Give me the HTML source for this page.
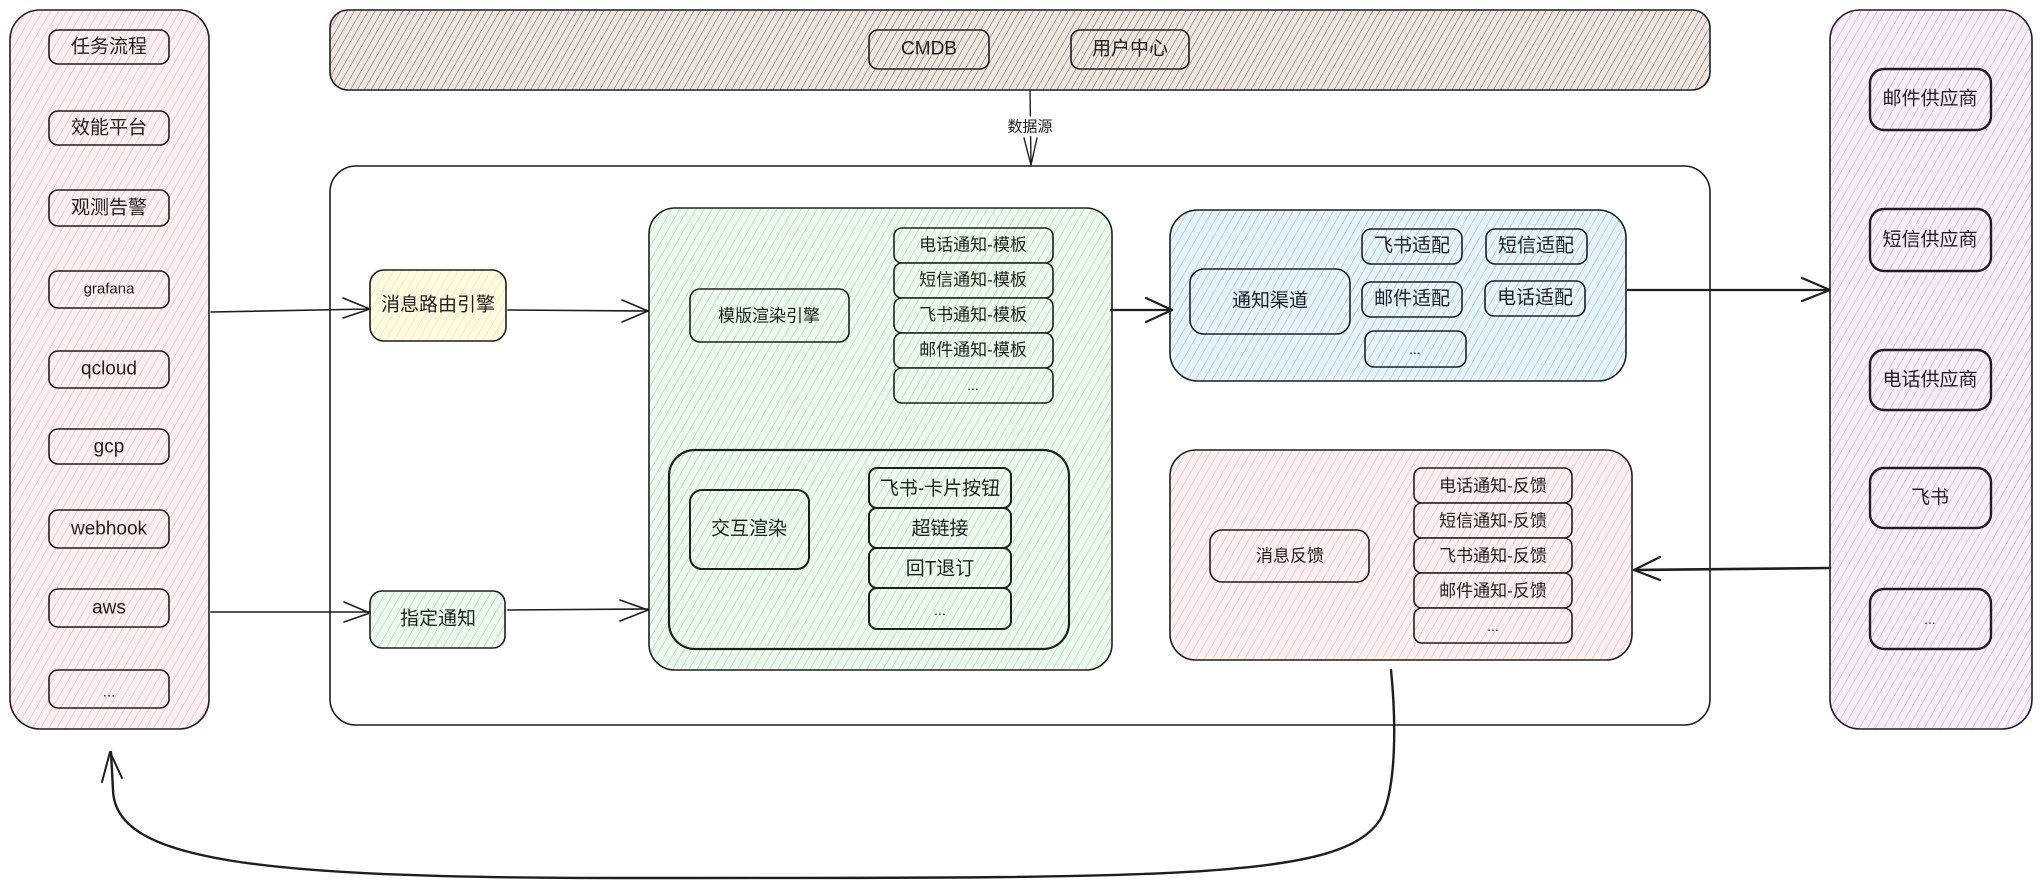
<!DOCTYPE html>
<html><head><meta charset="utf-8">
<style>
html,body{margin:0;padding:0;background:#fff;}
svg{display:block;}
text{font-family:"Liberation Sans","Noto Sans CJK SC",sans-serif;fill:#1e1e1e;text-anchor:middle;dominant-baseline:central;}
</style></head><body>
<svg width="2040" height="889" viewBox="0 0 2040 889" xmlns="http://www.w3.org/2000/svg">
<defs>
<pattern id="pk" width="7" height="7" patternUnits="userSpaceOnUse" patternTransform="rotate(30)"><rect width="7" height="7" fill="#fff1f1"/><line x1="0" y1="0" x2="0" y2="7" stroke="#ffb3b3" stroke-width="1.3"/></pattern>
<pattern id="br" width="6" height="6" patternUnits="userSpaceOnUse" patternTransform="rotate(30)"><rect width="6" height="6" fill="#eee6e2"/><line x1="0" y1="0" x2="0" y2="6" stroke="#8a6f63" stroke-width="1.2"/></pattern>
<pattern id="gr" width="7" height="7" patternUnits="userSpaceOnUse" patternTransform="rotate(30)"><rect width="7" height="7" fill="#eefcf0"/><line x1="0" y1="0" x2="0" y2="7" stroke="#9ee6a8" stroke-width="1.3"/></pattern>
<pattern id="bl" width="7" height="7" patternUnits="userSpaceOnUse" patternTransform="rotate(30)"><rect width="7" height="7" fill="#e8f4ff"/><line x1="0" y1="0" x2="0" y2="7" stroke="#92ccf8" stroke-width="1.3"/></pattern>
<pattern id="pu" width="7" height="7" patternUnits="userSpaceOnUse" patternTransform="rotate(30)"><rect width="7" height="7" fill="#fbefff"/><line x1="0" y1="0" x2="0" y2="7" stroke="#e2a8f5" stroke-width="1.3"/></pattern>
<pattern id="ye" width="7" height="7" patternUnits="userSpaceOnUse" patternTransform="rotate(30)"><rect width="7" height="7" fill="#fffbe6"/><line x1="0" y1="0" x2="0" y2="7" stroke="#ffe480" stroke-width="1.3"/></pattern>
</defs>
<g stroke="#1e1e1e" stroke-width="1.6">
<!-- left panel -->
<rect x="10" y="10" width="199" height="719" rx="30" fill="url(#pk)"/>
<g fill="url(#pk)">
<rect x="49" y="30" width="120" height="34" rx="9"/>
<rect x="49" y="111" width="120" height="34" rx="9"/>
<rect x="49" y="190" width="120" height="36" rx="9"/>
<rect x="49" y="271" width="120" height="37" rx="9"/>
<rect x="49" y="351" width="120" height="37" rx="9"/>
<rect x="49" y="429" width="120" height="35" rx="9"/>
<rect x="49" y="510" width="120" height="38" rx="9"/>
<rect x="49" y="589" width="120" height="38" rx="9"/>
<rect x="49" y="670" width="120" height="38" rx="9"/>
</g>
<!-- top bar -->
<rect x="330" y="10" width="1380" height="80" rx="18" fill="url(#br)"/>
<rect x="869" y="30" width="120" height="39" rx="9" fill="url(#br)"/>
<rect x="1071" y="30" width="118" height="39" rx="9" fill="url(#br)"/>
<!-- main container -->
<rect x="330" y="166" width="1380" height="559" rx="26" fill="none"/>
<!-- green -->
<rect x="649" y="208" width="463" height="462" rx="26" fill="url(#gr)"/>
<rect x="690" y="289" width="159" height="53" rx="10" fill="url(#gr)"/>
<g fill="url(#gr)">
<rect x="894" y="228" width="159" height="35" rx="8"/>
<rect x="894" y="263" width="159" height="35" rx="8"/>
<rect x="894" y="298" width="159" height="35" rx="8"/>
<rect x="894" y="333" width="159" height="35" rx="8"/>
<rect x="894" y="368" width="159" height="35" rx="8"/>
</g>
<rect x="669" y="450" width="400" height="199" rx="26" fill="none" stroke-width="2.2"/>
<rect x="690" y="490" width="119" height="79" rx="12" fill="none" stroke-width="2"/>
<g fill="none" stroke-width="2">
<rect x="869" y="468" width="142" height="40" rx="8"/>
<rect x="869" y="508" width="142" height="40" rx="8"/>
<rect x="869" y="548" width="142" height="40" rx="8"/>
<rect x="869" y="588" width="142" height="41" rx="8"/>
</g>
<!-- router / 指定通知 -->
<rect x="370" y="270" width="136" height="71" rx="14" fill="url(#ye)"/>
<rect x="370" y="591" width="135" height="57" rx="12" fill="url(#gr)"/>
<!-- blue -->
<rect x="1170" y="210" width="456" height="171" rx="28" fill="url(#bl)"/>
<rect x="1190" y="269" width="160" height="65" rx="14" fill="url(#bl)"/>
<g fill="url(#bl)">
<rect x="1362" y="229" width="100" height="35" rx="9"/>
<rect x="1486" y="229" width="101" height="35" rx="9"/>
<rect x="1362" y="282" width="100" height="35" rx="9"/>
<rect x="1485" y="281" width="100" height="35" rx="9"/>
<rect x="1365" y="331" width="101" height="36" rx="9"/>
</g>
<!-- pink feedback -->
<rect x="1170" y="450" width="462" height="210" rx="26" fill="url(#pk)"/>
<rect x="1210" y="530" width="159" height="52" rx="12" fill="url(#pk)"/>
<g fill="url(#pk)">
<rect x="1414" y="468" width="158" height="35" rx="8"/>
<rect x="1414" y="503" width="158" height="35" rx="8"/>
<rect x="1414" y="538" width="158" height="35" rx="8"/>
<rect x="1414" y="573" width="158" height="35" rx="8"/>
<rect x="1414" y="608" width="158" height="35" rx="8"/>
</g>
<!-- right panel -->
<rect x="1830" y="10" width="202" height="719" rx="30" fill="url(#pu)"/>
<g fill="url(#pu)" stroke-width="2.4">
<rect x="1870" y="69" width="121" height="61" rx="14"/>
<rect x="1870" y="209" width="121" height="62" rx="14"/>
<rect x="1870" y="350" width="121" height="60" rx="14"/>
<rect x="1870" y="468" width="121" height="60" rx="14"/>
<rect x="1870" y="589" width="121" height="60" rx="14"/>
</g>
</g>
<!-- connectors -->
<g stroke="#1e1e1e" fill="none" stroke-linecap="round" stroke-linejoin="round">
<path d="M1030 90 L1031 164" stroke-width="1.4"/>
<path d="M1024 138 L1031 165 L1037 138" stroke-width="1.4"/>
<path d="M211 312 L370 309" stroke-width="1.6"/>
<path d="M343 298 L370 309 L343 318" stroke-width="1.6"/>
<path d="M508 310 L648 311" stroke-width="1.6"/>
<path d="M622 300 L648 311 L622 322" stroke-width="1.6"/>
<path d="M211 612 L370 612" stroke-width="1.6"/>
<path d="M344 602 L370 613 L344 622" stroke-width="1.6"/>
<path d="M508 610 L648 609" stroke-width="1.6"/>
<path d="M620 600 L648 610 L620 621" stroke-width="1.6"/>
<path d="M1111 310 L1172 310" stroke-width="2.2"/>
<path d="M1146 298 L1172 310 L1146 322" stroke-width="2.2"/>
<path d="M1628 290 L1830 290" stroke-width="2.2"/>
<path d="M1802 278 L1830 290 L1802 301" stroke-width="2.2"/>
<path d="M1830 568 L1634 570" stroke-width="2.6"/>
<path d="M1660 557 L1634 570 L1660 580" stroke-width="2.2"/>
<path d="M1391 670 C1396 720 1397 790 1380 820 C1340 880 1180 878 620 878 C250 878 115 860 113 790 L111 752" stroke-width="2.4"/>
<path d="M102 782 L110 752 L122 778" stroke-width="2"/>
</g>
<!-- text -->
<g font-size="19">
<text x="109" y="47">任务流程</text>
<text x="109" y="128">效能平台</text>
<text x="109" y="208">观测告警</text>
<text x="109" y="289" font-size="15">grafana</text>
<text x="109" y="369">qcloud</text>
<text x="109" y="447">gcp</text>
<text x="109" y="529">webhook</text>
<text x="109" y="608">aws</text>
<text x="109" y="692" font-size="15">...</text>
<text x="929" y="49">CMDB</text>
<text x="1130" y="49">用户中心</text>
<text x="438" y="305">消息路由引擎</text>
<text x="438" y="619">指定通知</text>
<text x="769" y="316" font-size="17">模版渲染引擎</text>
<text x="749" y="529">交互渲染</text>
<text x="1270" y="301">通知渠道</text>
<text x="1412" y="246">飞书适配</text>
<text x="1536" y="246">短信适配</text>
<text x="1412" y="299">邮件适配</text>
<text x="1535" y="298">电话适配</text>
<text x="1415" y="349" font-size="14">...</text>
<text x="1290" y="556" font-size="17">消息反馈</text>
<text x="1930" y="99">邮件供应商</text>
<text x="1930" y="240">短信供应商</text>
<text x="1930" y="380">电话供应商</text>
<text x="1930" y="498">飞书</text>
<text x="1930" y="619" font-size="14">...</text>
</g>
<g font-size="17">
<text x="973" y="245">电话通知-模板</text>
<text x="973" y="280">短信通知-模板</text>
<text x="973" y="315">飞书通知-模板</text>
<text x="973" y="350">邮件通知-模板</text>
<text x="973" y="385" font-size="14">...</text>
<text x="940" y="489" font-size="19">飞书-卡片按钮</text>
<text x="940" y="529" font-size="19">超链接</text>
<text x="940" y="569" font-size="19">回T退订</text>
<text x="940" y="610" font-size="14">...</text>
<text x="1493" y="486">电话通知-反馈</text>
<text x="1493" y="521">短信通知-反馈</text>
<text x="1493" y="556">飞书通知-反馈</text>
<text x="1493" y="591">邮件通知-反馈</text>
<text x="1493" y="626" font-size="14">...</text>
</g>
<text x="1030" y="127" font-size="15" style="paint-order:stroke" stroke="#fff" stroke-width="6">数据源</text>
</svg>
</body></html>
